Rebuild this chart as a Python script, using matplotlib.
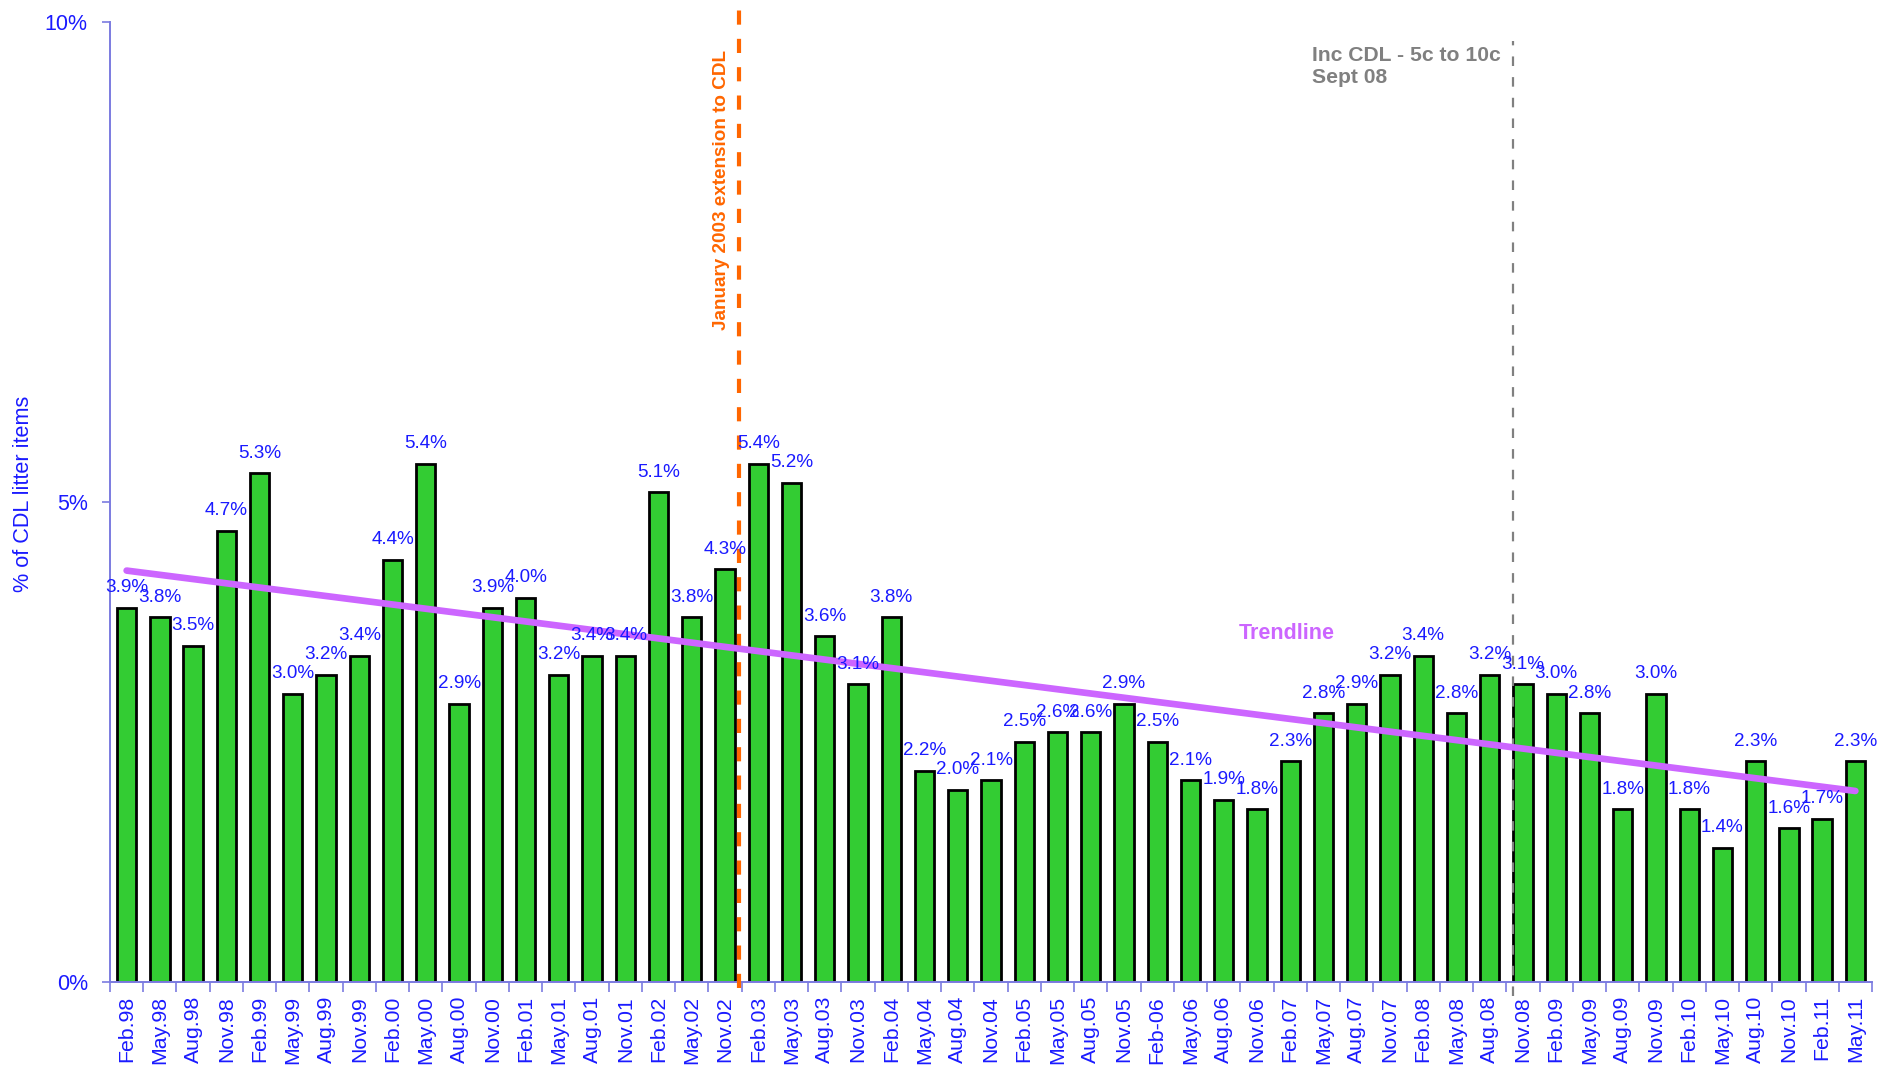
import numpy as np
import matplotlib
matplotlib.use("Agg")
import matplotlib.pyplot as plt

categories = ["Feb.98", "May.98", "Aug.98", "Nov.98", "Feb.99", "May.99", "Aug.99", "Nov.99",
              "Feb.00", "May.00", "Aug.00", "Nov.00", "Feb.01", "May.01", "Aug.01", "Nov.01",
              "Feb.02", "May.02", "Nov.02", "Feb.03", "May.03", "Aug.03", "Nov.03", "Feb.04",
              "May.04", "Aug.04", "Nov.04", "Feb.05", "May.05", "Aug.05", "Nov.05", "Feb-06",
              "May.06", "Aug.06", "Nov.06", "Feb.07", "May.07", "Aug.07", "Nov.07", "Feb.08",
              "May.08", "Aug.08", "Nov.08", "Feb.09", "May.09", "Aug.09", "Nov.09", "Feb.10",
              "May.10", "Aug.10", "Nov.10", "Feb.11", "May.11"]
values = [3.9, 3.8, 3.5, 4.7, 5.3, 3.0, 3.2, 3.4,
          4.4, 5.4, 2.9, 3.9, 4.0, 3.2, 3.4, 3.4,
          5.1, 3.8, 4.3, 5.4, 5.2, 3.6, 3.1, 3.8,
          2.2, 2.0, 2.1, 2.5, 2.6, 2.6, 2.9, 2.5,
          2.1, 1.9, 1.8, 2.3, 2.8, 2.9, 3.2, 3.4,
          2.8, 3.2, 3.1, 3.0, 2.8, 1.8, 3.0, 1.8,
          1.4, 2.3, 1.6, 1.7, 2.3]
y_ticks = [0, 5, 10]
y_tick_labels = ["0%", "5%", "10%"]

plt.rcParams['font.family'] = ['Liberation Sans', 'DejaVu Sans']

BLUE = '#1a1aff'
SPINE = '#7b7be0'

fig = plt.figure(figsize=(18.85, 10.67), dpi=100)
ax = fig.add_axes([0.05836, 0.07966, 0.93474, 0.89972])

x = np.arange(len(categories))
ax.bar(x, values, width=0.58, color='#33cc33', edgecolor='black', linewidth=2.0, zorder=2)

# data labels
for xi, v in zip(x, values):
    ax.text(xi, v + 0.12, f"{v:.1f}%", ha='center', va='bottom', fontsize=13.6,
            color=BLUE, zorder=5)

# linear trendline
coef = np.polyfit(x, values, 1)
trend = np.polyval(coef, x[[0, -1]])
ax.plot(x[[0, -1]], trend, color='#cc66ff', linewidth=4.8, solid_capstyle='round', zorder=4)
ax.text(34.9, 3.63, "Trendline", color='#cc66ff', fontsize=15.5, fontweight='bold',
        ha='center', va='center', zorder=5)

# event lines
ax.plot([18.42, 18.42], [-0.06, 10.18], color='#ff6600', linewidth=3.0,
        dashes=(3.4, 3.4), clip_on=False, zorder=3)
ax.text(17.88, 9.71, "January 2003 extension to CDL", rotation=90, color='#ff6600',
        fontsize=13.6, fontweight='bold', ha='center', va='top', zorder=5)

ax.plot([41.7, 41.7], [-0.15, 9.80], color='#808080', linewidth=1.6,
        dashes=(4.3, 5.0), clip_on=False, zorder=3)
ax.text(35.65, 9.75, "Inc CDL - 5c to 10c\nSept 08", color='#808080', fontsize=15.2,
        fontweight='bold', ha='left', va='top', linespacing=1.2, zorder=5)

ax.set_xlim(-0.5, len(categories) - 0.5)
ax.set_ylim(0, 10)

ax.set_yticks(y_ticks)
ax.set_yticklabels(y_tick_labels)
ax.set_xticks(x)
ax.set_xticklabels(categories, rotation=90)
ax.set_xticks(np.arange(-0.5, len(categories), 1.0), minor=True)

ax.tick_params(axis='x', which='major', length=0, pad=10, labelsize=15.3, labelcolor=BLUE)
ax.tick_params(axis='x', which='minor', length=7, width=1.2, color=SPINE, direction='out')
ax.tick_params(axis='y', which='major', length=6, width=1.2, color=SPINE, pad=10,
               labelsize=15.5, labelcolor=BLUE)

for s in ['top', 'right']:
    ax.spines[s].set_visible(False)
for s in ['left', 'bottom']:
    ax.spines[s].set_color(SPINE)
    ax.spines[s].set_linewidth(1.4)

ax.set_ylabel("% of CDL litter items", fontsize=15.6, color=BLUE)
ax.yaxis.set_label_coords(-0.043, 0.508)

fig.savefig("out.png", dpi=100)
